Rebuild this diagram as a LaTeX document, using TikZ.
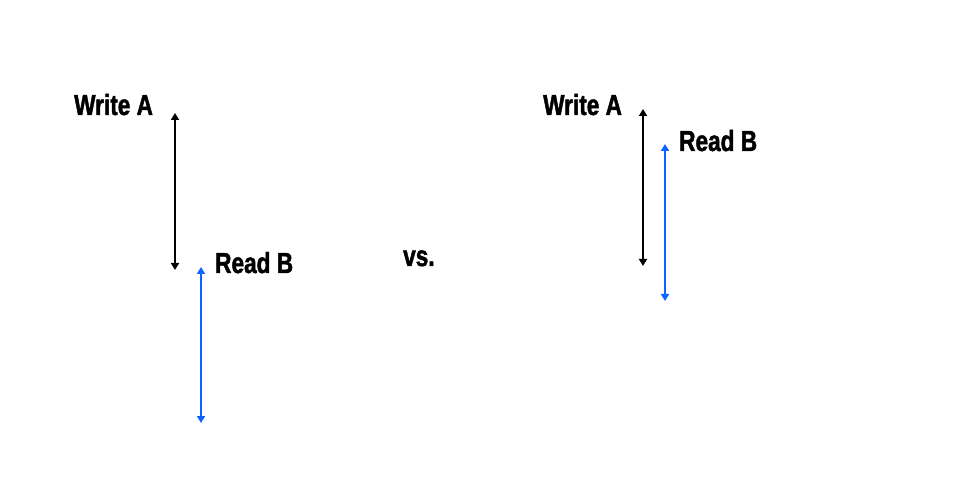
\documentclass[tikz,border=0pt]{standalone}
\usepackage{fontspec}
\newfontfamily\lblfont{Liberation Sans Bold}[FakeStretch=0.78, FakeBold=1.6]
\usetikzlibrary{arrows.meta}
\definecolor{arrblue}{HTML}{0A64FF}
\tikzset{
  lbl/.style={anchor=base west, inner sep=0pt, font=\lblfont\fontsize{29}{30}\selectfont},
  span/.style={line width=2.4pt, {Triangle[width=8pt,length=7pt]}-{Triangle[width=8pt,length=7pt]}},
  spanblue/.style={span, draw=arrblue, fill=arrblue, line width=2.9pt}
}
\begin{document}
\begin{tikzpicture}[x=1pt,y=-1pt]
\useasboundingbox (0,0) rectangle (980,478);
% left
\node[lbl] (wa1) at (74,115) {Write A};
\node[lbl] (rb1) at (215,273) {Read B};
\coordinate (a1t) at (175,113);
\coordinate (a1b) at (175,270);
\coordinate (b1t) at (201,267);
\coordinate (b1b) at (201,423);
\draw[span] (a1t) -- (a1b);
\draw[spanblue] (b1t) -- (b1b);
% vs
\node[lbl] (vs) at (403,266) {vs.};
% right
\node[lbl] (wa2) at (543,115) {Write A};
\node[lbl] (rb2) at (679,151) {Read B};
\coordinate (a2t) at (643,109);
\coordinate (a2b) at (643,266);
\coordinate (b2t) at (665,144);
\coordinate (b2b) at (665,301);
\draw[span] (a2t) -- (a2b);
\draw[spanblue] (b2t) -- (b2b);
\end{tikzpicture}
\end{document}
